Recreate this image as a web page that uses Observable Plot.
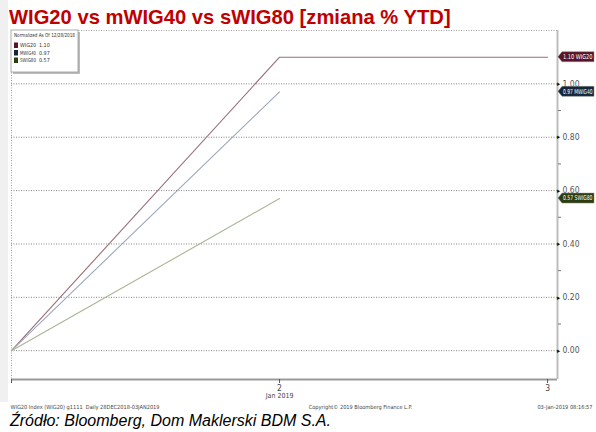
<!DOCTYPE html>
<html><head><meta charset="utf-8">
<script src="https://cdn.jsdelivr.net/npm/d3@7"></script>
<script src="https://cdn.jsdelivr.net/npm/@observablehq/plot@0.6"></script>
<style>
body{margin:0;background:#fff;width:596px;height:432px;overflow:hidden;position:relative;font-family:"Liberation Sans",Arial,sans-serif}
#strip{position:absolute;left:0;top:0;width:8px;height:402px;background:#f0f0f0}
#title{position:absolute;left:9px;top:7px;font-weight:bold;font-size:20.2px;color:#c00000;line-height:1;white-space:nowrap}
#chart{position:absolute;left:0;top:28px}
#src{position:absolute;left:10px;top:413px;font-style:italic;font-size:16px;line-height:1;white-space:nowrap;color:#000}
</style></head><body>
<div id="strip"></div>
<div id="title">WIG20 vs mWIG40 vs sWIG80 [zmiana % YTD]</div>
<div id="chart"></div>
<div id="src">Źródło: Bloomberg, Dom Maklerski BDM S.A.</div>
<script>
// ---- data ----
const dates = ["2018-12-28", "2019-01-02", "2019-01-03"];
const dayIndex = [0, 1, 2];
const xTickLabels = ["", "2", "3"];
const monthLabel = ["Jan 2019"];
const seriesNames = ["WIG20", "MWIG40", "SWIG80"];
const wig20 = [0, 1.10, 1.10];
const mwig40 = [0, 0.97, null];
const swig80 = [0, 0.57, null];
const lastValues = [1.10, 0.97, 0.57];
const yTicks = [0, 0.2, 0.4, 0.6, 0.8, 1.0];
const yMinor = [0.1, 0.3, 0.5, 0.7, 0.9, 1.1];
const legendTitle = "Normalized As Of 12/28/2018";
const footerLeft = "WIG20 Index (WIG20) g1111  Daily 28DEC2018-03JAN2019";
const footerCenter = "Copyright© 2019 Bloomberg Finance L.P.";
const footerRight = "03-Jan-2019 08:16:57";

// ---- styles ----
const lineColors = ["#9a6e78", "#9ea7bb", "#a8b596"];
const tagColors = ["#5a1428", "#13283c", "#2c3e10"];
const xDomain = [0, 2.037];
const yDomain = [-0.108, 1.2];
const narrow = "'Liberation Sans Narrow','DejaVu Sans Condensed',sans-serif";

const allSeries = [wig20, mwig40, swig80];
const rows = [];
allSeries.forEach((vals, s) => vals.forEach((v, i) => {
  if (v != null) rows.push({s: seriesNames[s], i: dayIndex[i], date: dates[i], v});
}));

function tags(index, scales, values, dim) {
  const svg = d3.create("svg:g").attr("text-anchor", "start");
  const x0 = dim.width - dim.marginRight;
  lastValues.forEach((v, k) => {
    const y = scales.y(v);
    svg.append("polygon")
      .attr("points", `${x0+1},${y} ${x0+5},${y-5} ${x0+37},${y-5} ${x0+37},${y+5} ${x0+5},${y+5}`)
      .attr("fill", tagColors[k]).attr("stroke", "#888").attr("stroke-width", 0.5);
    svg.append("text").attr("x", x0 + 6).attr("y", y + 2.4).attr("text-anchor", "start")
      .attr("fill", "#fff").attr("font-size", 6.6).attr("font-family", narrow)
      .attr("textLength", 29.5).attr("lengthAdjust", "spacingAndGlyphs")
      .text(`${v.toFixed(2)} ${seriesNames[k]}`);
  });
  return svg.node();
}

function legend(index, scales, values, dim) {
  const g = d3.create("svg:g").attr("text-anchor", "start");
  const x = dim.marginLeft, y = dim.marginTop;
  g.append("rect").attr("x", x + 2).attr("y", y + 2).attr("width", 67).attr("height", 42).attr("fill", "#bbb");
  g.append("rect").attr("x", x).attr("y", y).attr("width", 67).attr("height", 42)
    .attr("fill", "#fff").attr("stroke", "#999").attr("stroke-width", 0.8);
  g.append("text").attr("x", x + 3).attr("y", y + 7).attr("font-size", 5.4).attr("text-anchor", "start")
    .attr("textLength", 61).attr("lengthAdjust", "spacingAndGlyphs")
    .attr("font-family", narrow).attr("fill", "#333").text(legendTitle);
  seriesNames.forEach((n, k) => {
    const yy = y + 17 + k * 7.5;
    g.append("rect").attr("x", x + 3).attr("y", yy - 4.5).attr("width", 4).attr("height", 5.5).attr("fill", tagColors[k]);
    g.append("text").attr("x", x + 9).attr("y", yy).attr("font-size", 5.4).attr("text-anchor", "start")
      .attr("textLength", 16).attr("lengthAdjust", "spacingAndGlyphs")
      .attr("font-family", narrow).attr("fill", "#333").text(n);
    g.append("text").attr("x", x + 28).attr("y", yy).attr("font-size", 5.4).attr("text-anchor", "start")
      .attr("font-family", narrow).attr("fill", "#333").text(lastValues[k].toFixed(2));
  });
  return g.node();
}

const chart = Plot.plot({
  width: 596, height: 386,
  marginLeft: 11, marginRight: 39, marginTop: 2, marginBottom: 35,
  x: {domain: xDomain, axis: null, label: null},
  y: {domain: yDomain, axis: null, label: null},
  color: {domain: seriesNames, range: lineColors},
  style: {background: "transparent", fontFamily: narrow},
  marks: [
    Plot.ruleY(yTicks, {stroke: "#666", strokeDasharray: "1,1.5", strokeWidth: 0.8}),
    Plot.ruleY([yDomain[1]], {stroke: "#888", strokeDasharray: "1,1.5", strokeWidth: 0.8}),
    Plot.ruleX([xDomain[0]], {stroke: "#888", strokeDasharray: "1,1.5", strokeWidth: 0.8}),
    Plot.line(rows, {x: "i", y: "v", z: "s", stroke: "s", strokeWidth: 1.1}),
    Plot.ruleY([yDomain[0]], {stroke: "#9a9a9a", strokeWidth: 2}),
    Plot.ruleX([xDomain[1]], {stroke: "#bdbdbd", strokeWidth: 2}),
    Plot.axisY(yMinor, {anchor: "right", tickSize: 3, fill: "none", stroke: "#777", label: null}),
    Plot.axisY(yTicks, {anchor: "right", tickSize: 0, tickPadding: 5, tickFormat: d3.format(".2f"), fontSize: 8.5, fill: "#555", label: null}),
    Plot.text(yTicks, {y: d => d, frameAnchor: "right", text: () => "▸", fontSize: 7, fill: "#111", dx: 1, textAnchor: "middle"}),
    Plot.axisX(dayIndex, {anchor: "bottom", tickSize: 4, tickPadding: 1, tickFormat: d => xTickLabels[d], fontSize: 8.5, fill: "#444", stroke: "#555", label: null}),
    Plot.text(monthLabel, {x: () => dayIndex[1], frameAnchor: "bottom", text: d => d, dy: 18, fontSize: 7, fill: "#444"}),
    Plot.text([footerLeft], {frameAnchor: "bottom-left", text: d => d, dy: 29, dx: -1, textAnchor: "start", fontSize: 5.6, fill: "#444"}),
    Plot.text([footerCenter], {frameAnchor: "bottom", text: d => d, dy: 29, dx: 76, fontSize: 5.6, fill: "#444"}),
    Plot.text([footerRight], {frameAnchor: "bottom-right", text: d => d, dy: 29, dx: 35, textAnchor: "end", fontSize: 5.6, fill: "#444"}),
    tags,
    legend
  ]
});
document.getElementById("chart").append(chart);
</script>
</body></html>
